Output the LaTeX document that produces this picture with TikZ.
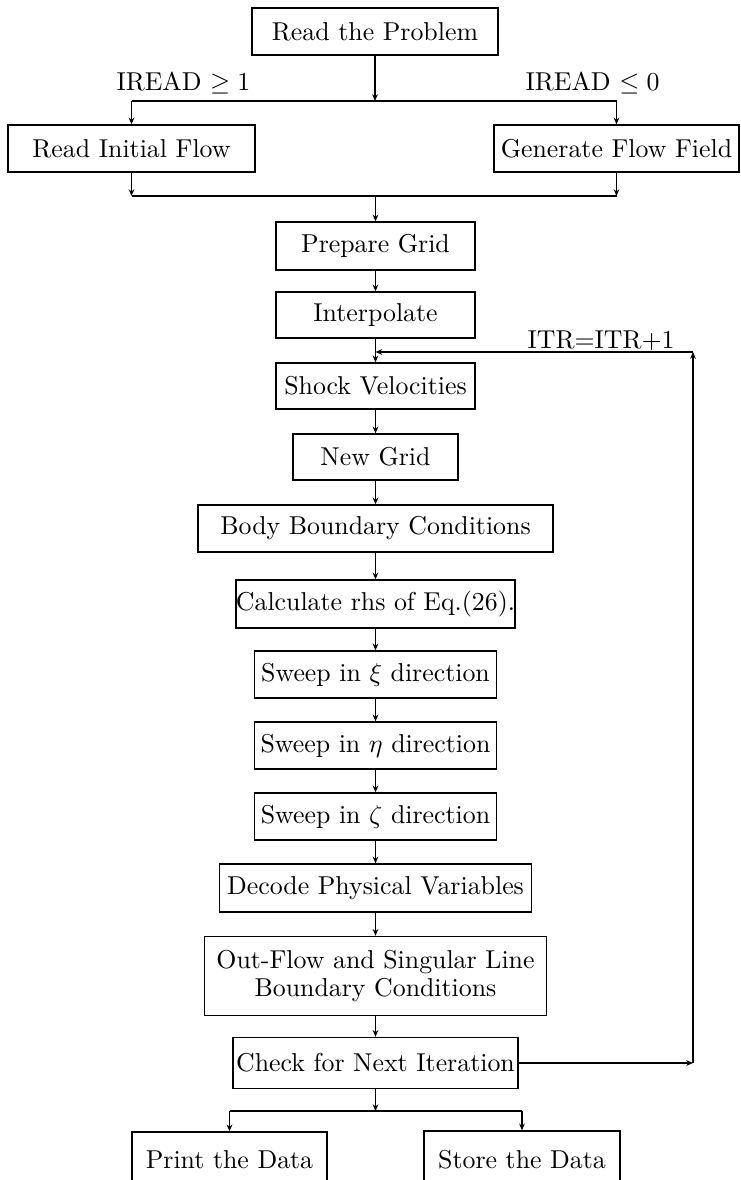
\documentclass[tikz,border=0pt]{standalone}
\usetikzlibrary{arrows.meta}
\tikzset{x=0.387pt,y=-0.387pt,
 box/.style={draw, line width=0.55pt, inner sep=0pt, align=center, font=\fontsize{10}{11.2}\selectfont},
 arr/.style={-{Stealth[length=2.6pt,width=2.2pt]}, line width=0.5pt},
 ln/.style={line width=0.5pt},
 lbl/.style={inner sep=0pt, font=\fontsize{10}{12}\selectfont}}
\newcommand\bx[6]{\node[box,minimum width=#4*0.387pt,minimum height=#5*0.387pt] (#1) at (#2,#3) {#6};}
\begin{document}
\begin{tikzpicture}
\useasboundingbox (0,0) rectangle (740,1180);
\bx{prob}{375}{31.5}{246}{47}{Read the Problem}
\bx{init}{131.5}{148.5}{247}{47}{Read Initial Flow}
\bx{gen}{616.5}{148.5}{245}{47}{Generate Flow Field}
\bx{prep}{375.5}{246}{199}{48}{Prepare Grid}
\bx{interp}{375.5}{315}{199}{46}{Interpolate}
\bx{shock}{375.5}{386}{199}{46}{Shock Velocities}
\bx{newg}{375.5}{457}{165}{46}{New Grid}
\bx{body}{375.5}{528.5}{355}{47}{Body Boundary Conditions}
\bx{calc}{375.5}{604}{274}{48}{Calculate rhs of Eq.(26).}
\bx{sxi}{375.5}{674.5}{242}{47}{Sweep in $\xi$ direction}
\bx{seta}{375.5}{745.5}{242}{47}{Sweep in $\eta$ direction}
\bx{szeta}{375.5}{816.5}{242}{47}{Sweep in $\zeta$ direction}
\bx{dec}{375.5}{888}{312}{48}{Decode Physical Variables}
\bx{out}{375.5}{976}{342}{79}{Out-Flow and Singular Line\\Boundary Conditions}
\bx{chk}{375.5}{1063}{285}{51}{Check for Next Iteration}
\bx{prt}{229.5}{1160}{195}{56}{Print the Data}
\bx{sto}{522}{1160}{196}{58}{Store the Data}

\node[lbl, anchor=base west] (l1) at (116,90) {IREAD $\geq 1$};
\node[lbl, anchor=base east] (l2) at (660,90) {IREAD $\leq 0$};
\node[lbl, anchor=base west] (l3) at (527,348) {ITR=ITR+1};

\coordinate (j1) at (375,101);
\coordinate (j2) at (375.5,196);
\coordinate (j3) at (375.5,1111);
\coordinate (lpt) at (375.5,352);
\coordinate (rt) at (693,352);

\draw[arr] (prob.south) -- (j1);
\draw[ln] (init.north |- j1) -- (gen.north |- j1);
\draw[arr] (init.north |- j1) -- (init.north);
\draw[arr] (gen.north |- j1) -- (gen.north);
\draw[arr] (init.south) -- (init.south |- j2);
\draw[arr] (gen.south) -- (gen.south |- j2);
\draw[ln] (init.south |- j2) -- (gen.south |- j2);
\draw[arr] (j2) -- (prep.north);
\draw[arr] (prep) -- (interp);
\draw[arr] (interp) -- (shock);
\draw[arr] (shock) -- (newg);
\draw[arr] (newg) -- (body);
\draw[arr] (body) -- (calc);
\draw[arr] (calc) -- (sxi);
\draw[arr] (sxi) -- (seta);
\draw[arr] (seta) -- (szeta);
\draw[arr] (szeta) -- (dec);
\draw[arr] (dec) -- (out);
\draw[arr] (out) -- (chk);
\coordinate (rb) at (chk.east -| rt);
\draw[arr] (chk.east) -- (rb);
\draw[arr] (rb) -- (rt);
\draw[arr] (rt) -- (lpt);
\draw[arr] (chk.south) -- (j3);
\draw[ln] (prt.north |- j3) -- (sto.north |- j3);
\draw[arr] (prt.north |- j3) -- (prt.north);
\draw[arr] (sto.north |- j3) -- (sto.north);
\end{tikzpicture}
\end{document}
